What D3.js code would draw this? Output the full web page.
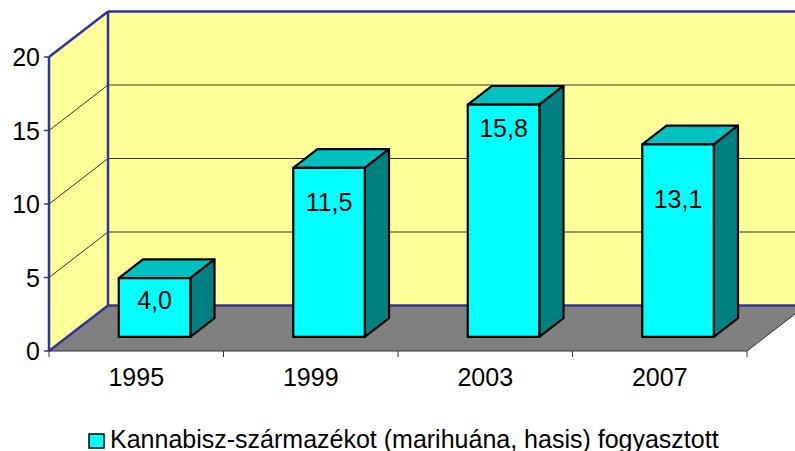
<!DOCTYPE html>
<html>
<head>
<meta charset="utf-8">
<script src="https://cdn.jsdelivr.net/npm/d3@7"></script>
<style>
  body { margin: 0; background: #fff; }
  svg { display: block; font-family: "Liberation Sans", Arial, sans-serif; }
</style>
</head>
<body>
<svg id="chart" width="795" height="451"></svg>
<script>
var categories = ["1995", "1999", "2003", "2007"];
var values = [4.0, 11.5, 15.8, 13.1];
var valueLabels = ["4,0", "11,5", "15,8", "13,1"];
// where each label sits inside its bar, in value units
var labelLevels = [2.5, 9.2, 14.2, 9.4];
var yTicks = [0, 5, 10, 15, 20];
var seriesName = "Kannabisz-származékot (marihuána, hasis) fogyasztott";

var svg = d3.select("#chart");
var fs = 25;

var x = d3.scaleBand().domain(categories).range([49, 747]).padding(0);
var y = d3.scaleLinear().domain([0, 20]).range([351, 57]);
var depth = { dx: 59, dy: -45.5 };

// project a point (px on front, value, depth fraction) to screen
function P(px, v, z) {
  return [px + z * depth.dx, y(v) + z * depth.dy];
}
function poly(pts) {
  return "M" + pts.map(function(p) { return p[0] + "," + p[1]; }).join("L") + "Z";
}

var x0 = x.range()[0], x1 = x.range()[1];
var wallBlue = "#333399";

// back wall
svg.append("path")
  .attr("d", poly([P(x0, 0, 1), P(x1, 0, 1), P(x1, 20, 1), P(x0, 20, 1)]))
  .attr("fill", "#ffff99");
// side wall
svg.append("path")
  .attr("d", poly([P(x0, 0, 0), P(x0, 0, 1), P(x0, 20, 1), P(x0, 20, 0)]))
  .attr("fill", "#ffff99");
// floor
svg.append("path")
  .attr("d", poly([P(x0, 0, 0), P(x1, 0, 0), P(x1, 0, 1), P(x0, 0, 1)]))
  .attr("fill", "#808080");

// gridlines
var grid = svg.append("g");
yTicks.filter(function(t) { return t > 0 && t < 20; }).forEach(function(t) {
  var a = P(x0, t, 0), b = P(x0, t, 1), c = P(x1, t, 1);
  grid.append("path")
    .attr("d", "M" + a + "L" + b + "L" + c)
    .attr("fill", "none").attr("stroke", "#000").attr("stroke-width", 0.8);
});

// wall edges
var edges = [
  [P(x0, 0, 0), P(x0, 20, 0)],
  [P(x0, 20, 0), P(x0, 20, 1)],
  [P(x0, 20, 1), P(x0, 0, 1)],
  [P(x0, 20, 1), P(x1, 20, 1)],
  [P(x0, 0, 1), P(x1, 0, 1)],
  [P(x0, 0, 0), P(x0, 0, 1)]
];
svg.append("g").selectAll("line")
  .data(edges)
  .enter()
  .append("line")
  .attr("x1", function(d) { return d[0][0]; })
  .attr("y1", function(d) { return d[0][1]; })
  .attr("x2", function(d) { return d[1][0]; })
  .attr("y2", function(d) { return d[1][1]; })
  .attr("stroke", wallBlue)
  .attr("stroke-width", 2.5);

// floor front + right edges
var fr = P(x1, 0, 0), br = P(x1, 0, 1);
svg.append("path")
  .attr("d", "M" + P(x0, 0, 0) + "L" + fr + "L" + br)
  .attr("fill", "none").attr("stroke", "#333").attr("stroke-width", 1);

// x ticks
svg.append("g").selectAll("line")
  .data(categories.concat(["end"]))
  .enter()
  .append("line")
  .attr("x1", function(d, i) { return x0 + i * x.bandwidth(); })
  .attr("x2", function(d, i) { return x0 + i * x.bandwidth(); })
  .attr("y1", y(0))
  .attr("y2", y(0) + 6)
  .attr("stroke", "#333").attr("stroke-width", 1);

// y ticks + labels
var yAxis = svg.append("g");
yAxis.selectAll("line")
  .data(yTicks)
  .enter()
  .append("line")
  .attr("x1", x0 - 5).attr("x2", x0)
  .attr("y1", function(d) { return y(d); })
  .attr("y2", function(d) { return y(d); })
  .attr("stroke", wallBlue).attr("stroke-width", 1.5);
yAxis.selectAll("text")
  .data(yTicks)
  .enter()
  .append("text")
  .attr("x", x0 - 9)
  .attr("y", function(d) { return y(d); })
  .attr("dy", "0.36em")
  .attr("text-anchor", "end")
  .attr("font-size", fs)
  .text(function(d) { return d; });

// x labels
svg.append("g").selectAll("text")
  .data(categories)
  .enter()
  .append("text")
  .attr("x", function(d) { return x(d) + x.bandwidth() / 2; })
  .attr("y", 386)
  .attr("text-anchor", "middle")
  .attr("font-size", fs)
  .text(function(d) { return d; });

// bars
var zf = 0.31, zb = 0.72;
var bw = x.bandwidth() * 0.41;
var bars = svg.append("g").selectAll("g")
  .data(values)
  .enter()
  .append("g");

function left(i) { return x(categories[i]) + (x.bandwidth() - bw) / 2; }

bars.append("path")
  .attr("d", function(d, i) {
    var l = left(i), r = l + bw;
    return poly([P(l, d, zf), P(r, d, zf), P(r, d, zb), P(l, d, zb)]);
  })
  .attr("fill", "#00c0c0");
bars.append("path")
  .attr("d", function(d, i) {
    var r = left(i) + bw;
    return poly([P(r, 0, zf), P(r, 0, zb), P(r, d, zb), P(r, d, zf)]);
  })
  .attr("fill", "#008080");
bars.append("path")
  .attr("d", function(d, i) {
    var l = left(i), r = l + bw;
    return poly([P(l, 0, zf), P(r, 0, zf), P(r, d, zf), P(l, d, zf)]);
  })
  .attr("fill", "#00ffff");
bars.selectAll("path")
  .attr("stroke", "#000").attr("stroke-width", 2.2).attr("stroke-linejoin", "round");

bars.append("text")
  .attr("x", function(d, i) { return P(left(i) + bw / 2, 0, zf)[0]; })
  .attr("y", function(d, i) { return P(0, labelLevels[i], zf)[1]; })
  .attr("dy", "0.36em")
  .attr("text-anchor", "middle")
  .attr("font-size", fs)
  .text(function(d, i) { return valueLabels[i]; });

// legend
var legend = svg.append("g").attr("transform", "translate(89,434)");
legend.append("rect")
  .attr("width", 15).attr("height", 14)
  .attr("fill", "#00ffff").attr("stroke", "#000").attr("stroke-width", 1.5);
legend.append("text")
  .attr("x", 21).attr("y", 14)
  .attr("font-size", fs)
  .text(seriesName);
</script>
</body>
</html>
